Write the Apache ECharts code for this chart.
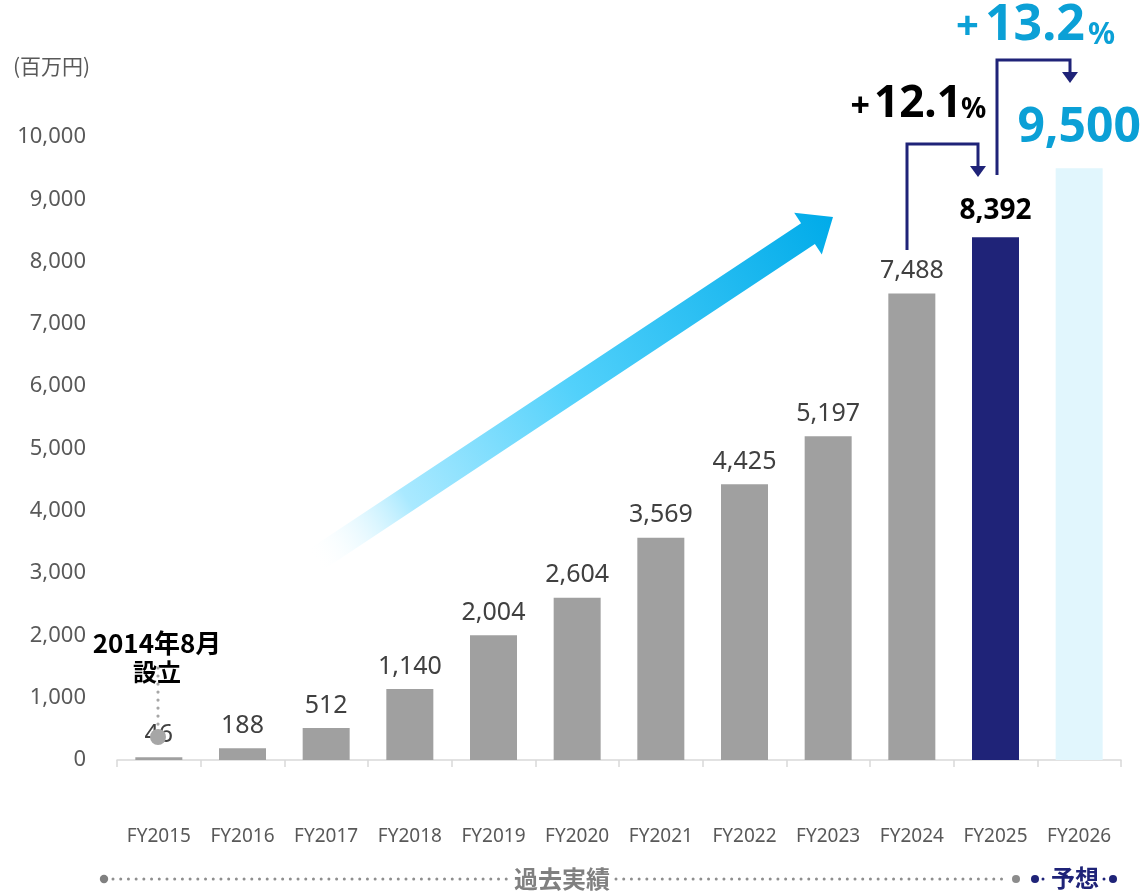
<!DOCTYPE html>
<html>
<head>
<meta charset="utf-8">
<script src="https://cdn.jsdelivr.net/npm/echarts@6/dist/echarts.min.js"></script>
<style>
  html, body { margin: 0; padding: 0; background: #fff; }
  #chart { width: 1140px; height: 892px; }
</style>
</head>
<body>
<div id="chart"></div>
<script>
// 売上高の推移（百万円）
const categories = ['FY2015', 'FY2016', 'FY2017', 'FY2018', 'FY2019', 'FY2020',
  'FY2021', 'FY2022', 'FY2023', 'FY2024', 'FY2025', 'FY2026'];
const sales = [46, 188, 512, 1140, 2004, 2604, 3569, 4425, 5197, 7488, 8392, 9500];
const yTicks = { min: 0, max: 10000, interval: 1000 };
const growthLabels = ['12.1', '13.2'];

const FONT = '"Noto Sans", "Noto Sans CJK JP", sans-serif';
const JP_FONT = '"Noto Sans CJK JP", "Noto Sans", sans-serif';
const GRAY_BAR = '#a0a0a0';
const NAVY = '#1f2378';
const CYAN = '#0ba0d6';

const chart = echarts.init(document.getElementById('chart'));

const lastIdx = sales.length - 1;
const barData = sales.map((v, i) => {
  if (i === lastIdx) {
    // 予想
    return {
      value: v,
      itemStyle: { color: '#e1f6fd' },
      label: { fontSize: 48, fontWeight: 'bold', color: CYAN, distance: 16 }
    };
  }
  if (i === lastIdx - 1) {
    return {
      value: v,
      itemStyle: { color: NAVY },
      label: { fontSize: 28, fontWeight: 'bold', color: '#000', distance: 12 }
    };
  }
  return v;
});

// 右肩上がりの矢印（装飾）
function arrowPoints(tail, tip, shaftHalf, headHalf, headLen) {
  const dx = tip[0] - tail[0], dy = tip[1] - tail[1];
  const len = Math.hypot(dx, dy);
  const ux = dx / len, uy = dy / len;
  const nx = -uy, ny = ux;
  const bx = tip[0] - ux * headLen, by = tip[1] - uy * headLen;
  return [
    [tail[0] + nx * shaftHalf, tail[1] + ny * shaftHalf],
    [bx + nx * shaftHalf, by + ny * shaftHalf],
    [bx + nx * headHalf, by + ny * headHalf],
    tip,
    [bx - nx * headHalf, by - ny * headHalf],
    [bx - nx * shaftHalf, by - ny * shaftHalf],
    [tail[0] - nx * shaftHalf, tail[1] - ny * shaftHalf]
  ];
}
const arrowTail = [314, 561];
const arrowTip = [833, 217];

function dottedLine(x1, x2, y, color) {
  return {
    type: 'line',
    shape: { x1: x1, y1: y, x2: x2, y2: y },
    style: { stroke: color, lineWidth: 3, lineDash: [0.01, 7.7], lineCap: 'round' },
    silent: true
  };
}
function dot(x, y, r, color) {
  return { type: 'circle', shape: { cx: x, cy: y, r: r }, style: { fill: color }, silent: true };
}
function bracket(points, color) {
  const end = points[points.length - 1];
  return [
    { type: 'polyline', shape: { points: points }, style: { stroke: color, lineWidth: 3, fill: null }, silent: true },
    {
      type: 'polygon',
      shape: { points: [[end[0] - 8, end[1] - 2], [end[0] + 8, end[1] - 2], [end[0], end[1] + 9]] },
      style: { fill: color }, silent: true
    }
  ];
}

const graphics = [
  {
    type: 'polygon',
    shape: { points: arrowPoints(arrowTail, arrowTip, 12.5, 25, 30) },
    style: {
      fill: new echarts.graphic.LinearGradient(arrowTail[0], arrowTail[1], arrowTip[0], arrowTip[1], [
        { offset: 0, color: 'rgba(255,255,255,0)' },
        { offset: 0.18, color: 'rgba(165,232,255,0.95)' },
        { offset: 0.5, color: '#52d1fb' },
        { offset: 1, color: '#00abe9' }
      ], true)
    },
    silent: true,
    z: 1
  },
  // 単位
  { type: 'text', left: 13, top: 56, style: { text: '(百万円)', font: '21px ' + JP_FONT, fill: '#595959' } },
  // 設立
  { type: 'text', x: 157, y: 643, style: { text: '2014年8月', font: 'bold 26px ' + JP_FONT, fill: '#000', align: 'center', verticalAlign: 'middle' } },
  { type: 'text', x: 157, y: 672, style: { text: '設立', font: 'bold 24px ' + JP_FONT, fill: '#000', align: 'center', verticalAlign: 'middle' } },
  { type: 'line', shape: { x1: 158, y1: 668, x2: 158, y2: 726 }, style: { stroke: '#a6a6a6', lineWidth: 3.2, lineDash: [0.01, 8], lineCap: 'round' }, silent: true, z: 20 },
  { type: 'circle', shape: { cx: 158, cy: 737, r: 8 }, style: { fill: '#a6a6a6' }, silent: true, z: 20 },
  // 成長率
  { type: 'text', x: 870, y: 107, style: { text: '+', font: 'bold 34px ' + FONT, fill: '#000', align: 'right', verticalAlign: 'middle' } },
  { type: 'text', x: 874, y: 104, style: { text: growthLabels[0], font: 'bold 44px ' + FONT, fill: '#000', align: 'left', verticalAlign: 'middle' } },
  { type: 'text', x: 961, y: 110, style: { text: '%', font: 'bold 28px ' + FONT, fill: '#000', align: 'left', verticalAlign: 'middle' } },
  { type: 'text', x: 979, y: 28, style: { text: '+', font: 'bold 40px ' + FONT, fill: CYAN, align: 'right', verticalAlign: 'middle' } },
  { type: 'text', x: 985, y: 26, style: { text: growthLabels[1], font: 'bold 50px ' + FONT, fill: CYAN, align: 'left', verticalAlign: 'middle' } },
  { type: 'text', x: 1088, y: 35, style: { text: '%', font: 'bold 30px ' + FONT, fill: CYAN, align: 'left', verticalAlign: 'middle' } },
  ...bracket([[907, 250], [907, 144], [978, 144], [978, 168]], NAVY),
  ...bracket([[997, 175], [997, 60], [1070, 60], [1070, 74]], NAVY),
  // 過去実績 / 予想
  dot(104, 879, 4.2, '#808080'),
  dottedLine(113, 508, 879, '#8e8e8e'),
  { type: 'text', x: 562, y: 879, style: { text: '過去実績', font: 'bold 24px ' + JP_FONT, fill: '#808080', align: 'center', verticalAlign: 'middle' } },
  dottedLine(616, 1008, 879, '#8e8e8e'),
  dot(1016, 879, 4, '#8c8c8c'),
  dot(1035, 879, 4, NAVY),
  dot(1043, 879, 1.5, NAVY),
  { type: 'text', x: 1075, y: 878, style: { text: '予想', font: 'bold 24px ' + JP_FONT, fill: NAVY, align: 'center', verticalAlign: 'middle' } },
  dot(1104, 879, 1.5, NAVY),
  dot(1113, 879, 4, NAVY)
];

chart.setOption({
  backgroundColor: '#fff',
  animation: false,
  grid: { left: 117, right: 19, top: 137, bottom: 132, containLabel: false },
  xAxis: {
    type: 'category',
    data: categories,
    axisLine: { lineStyle: { color: '#d9d9d9', width: 1.5 } },
    axisTick: { show: true, length: 7, lineStyle: { color: '#d9d9d9', width: 1.5 } },
    axisLabel: { color: '#595959', fontSize: 19, fontFamily: FONT, margin: 67, interval: 0 },
    splitLine: { show: false }
  },
  yAxis: {
    type: 'value',
    min: yTicks.min,
    max: yTicks.max,
    interval: yTicks.interval,
    axisLine: { show: false },
    axisTick: { show: false },
    splitLine: { show: false },
    axisLabel: {
      color: '#595959', fontSize: 22, fontFamily: FONT, margin: 31,
      formatter: v => v.toLocaleString('en-US')
    }
  },
  series: [{
    type: 'bar',
    data: barData,
    barWidth: 47,
    itemStyle: { color: GRAY_BAR },
    z: 5,
    label: {
      show: true,
      position: 'top',
      distance: 10,
      color: '#404040',
      fontSize: 25,
      fontFamily: FONT,
      formatter: p => p.value.toLocaleString('en-US')
    }
  }],
  graphic: graphics
});
</script>
</body>
</html>
